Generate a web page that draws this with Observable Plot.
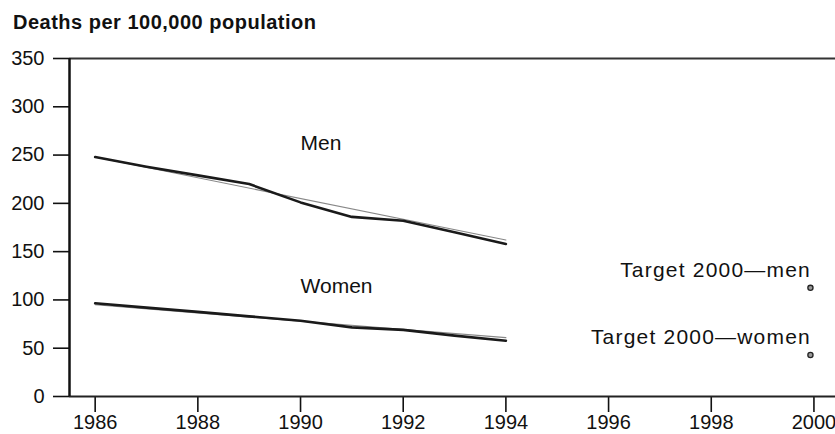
<!DOCTYPE html>
<html><head><meta charset="utf-8">
<script src="https://cdn.jsdelivr.net/npm/d3@7"></script>
<script src="https://cdn.jsdelivr.net/npm/@observablehq/plot@0.6"></script>
<style>
body{margin:0;background:#fff;font-family:"Liberation Sans",Arial,Helvetica,sans-serif;}
#title{height:40px;box-sizing:border-box;padding:12px 0 0 13px;font-weight:bold;font-size:20px;line-height:20px;letter-spacing:0.5px;color:#111;}
#chart svg g[aria-label="y-axis tick"] path,#chart svg g[aria-label="x-axis tick"] path{stroke-width:1.6px;}
</style></head><body>
<div id="title">Deaths per 100,000 population</div>
<div id="chart"></div>
<script>
const years = [1986, 1987, 1988, 1989, 1990, 1991, 1992, 1993, 1994];
const men = [248, 238, 229, 220, 201, 186, 182, 170, 158];
const women = [96.5, 92, 87.6, 83, 78.5, 71.6, 69, 63, 57.8];
const trendYears = [1986, 1994];
const menTrend = [248, 162];
const womenTrend = [95, 61];
const seriesLabels = ["Men", "Women"];
const seriesLabelX = [1990, 1990];
const seriesLabelY = [255, 107];
const targetYear = 2000;
const targetLabels = ["Target 2000\u2014men", "Target 2000\u2014women"];
const targetValues = [112.5, 43];
const xTicks = [1986, 1988, 1990, 1992, 1994, 1996, 1998, 2000];
const yTicks = [0, 50, 100, 150, 200, 250, 300, 350];

const menData = years.map((y, i) => ({year: y, value: men[i]}));
const womenData = years.map((y, i) => ({year: y, value: women[i]}));
const menTrendData = trendYears.map((y, i) => ({year: y, value: menTrend[i]}));
const womenTrendData = trendYears.map((y, i) => ({year: y, value: womenTrend[i]}));
const labelData = seriesLabels.map((t, i) => ({text: t, year: seriesLabelX[i], value: seriesLabelY[i]}));
const targetData = targetLabels.map((t, i) => ({text: t, year: targetYear, value: targetValues[i]}));

const chart = Plot.plot({
  width: 835,
  height: 394,
  marginLeft: 69,
  marginRight: 0,
  marginTop: 18,
  marginBottom: 38,
  style: {fontFamily: '"Liberation Sans", Arial, Helvetica, sans-serif', fontSize: "20px", color: "#111", background: "white"},
  x: {domain: [1985.5, 2000.42], ticks: xTicks, tickFormat: d => String(d), tickSize: 16, tickPadding: 2, label: null},
  y: {domain: [0, 350], ticks: yTicks, tickSize: 16, tickPadding: 9, label: null},
  marks: [
    Plot.ruleY([350], {stroke: "#333", strokeWidth: 2}),
    Plot.ruleY([0], {stroke: "#222", strokeWidth: 2}),
    Plot.ruleX([1985.5], {stroke: "#111", strokeWidth: 2.5}),
    Plot.line(menTrendData, {x: "year", y: "value", stroke: "#888", strokeWidth: 1.1}),
    Plot.line(womenTrendData, {x: "year", y: "value", stroke: "#888", strokeWidth: 1.1}),
    Plot.line(menData, {x: "year", y: "value", stroke: "#1a1a1a", strokeWidth: 2.6}),
    Plot.line(womenData, {x: "year", y: "value", stroke: "#1a1a1a", strokeWidth: 2.6}),
    Plot.text(labelData, {x: "year", y: "value", text: "text", textAnchor: "start", lineAnchor: "bottom", fontSize: 21, fill: "#111"}),
    Plot.dot(targetData, {x: "year", y: "value", r: 2.6, fill: "#999", stroke: "#222", strokeWidth: 1.3, dx: -3.5}),
    Plot.text(targetData, {x: "year", y: "value", text: "text", textAnchor: "end", lineAnchor: "bottom", dy: -11, dx: -3, fontSize: 21, fill: "#111"})
  ]
});
d3.select(chart).selectAll("text").filter(function() { return this.textContent.startsWith("Target"); }).attr("letter-spacing", "1.2px");
document.getElementById("chart").appendChild(chart);
</script>
</body></html>
